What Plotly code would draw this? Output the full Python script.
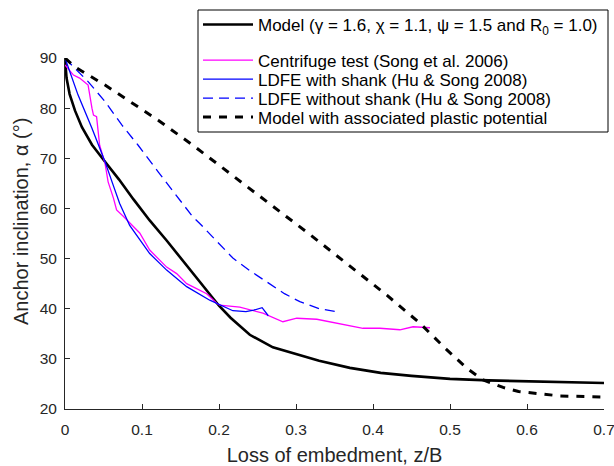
import plotly.graph_objects as go

# ---- data ----
model_x = [0, 0.002, 0.006, 0.013, 0.022, 0.035, 0.052, 0.07, 0.089, 0.11, 0.132, 0.15, 0.167,
           0.185, 0.2, 0.215, 0.24, 0.27, 0.3, 0.33, 0.37, 0.41, 0.45, 0.5, 0.55, 0.6, 0.65, 0.7]
model_y = [90, 86, 82.8, 79.5, 76.2, 72.7, 69.3, 65.8, 61.8, 57.6, 53.6, 50.2, 47.0,
           43.6, 40.6, 38.2, 34.8, 32.3, 31.0, 29.6, 28.2, 27.2, 26.6, 26.0, 25.7, 25.5, 25.35, 25.2]

cent_x = [0, 0.011, 0.019, 0.03, 0.035, 0.037, 0.041, 0.043, 0.045, 0.052, 0.056, 0.063, 0.067,
          0.076, 0.089, 0.097, 0.11, 0.123, 0.132, 0.145, 0.158, 0.167, 0.175, 0.184, 0.197,
          0.201, 0.227, 0.257, 0.283, 0.301, 0.327, 0.361, 0.387, 0.409, 0.435, 0.452, 0.474]
cent_y = [88.6, 86.6, 86.0, 84.6, 80.0, 78.6, 78.3, 75.3, 72.6, 69.0, 65.3, 62.0, 59.7,
          58.4, 56.4, 55.1, 51.7, 49.7, 48.3, 47.0, 45.0, 44.3, 43.7, 43.0, 41.1,
          40.7, 40.3, 39.1, 37.4, 38.1, 37.9, 36.9, 36.1, 36.1, 35.8, 36.4, 36.2]

ldfe_x = [0, 0.017, 0.035, 0.052, 0.062, 0.071, 0.084, 0.11, 0.132, 0.158, 0.188, 0.206,
          0.218, 0.235, 0.245, 0.256, 0.264]
ldfe_y = [90, 82.6, 76.0, 69.3, 64.9, 61.0, 56.6, 51.0, 47.7, 44.4, 41.7, 40.4,
          39.6, 39.4, 39.7, 40.2, 38.6]

ldfe_ns_x = [0, 0.004, 0.03, 0.052, 0.074, 0.095, 0.121, 0.166, 0.175, 0.218, 0.24, 0.262,
             0.285, 0.305, 0.33, 0.353]
ldfe_ns_y = [90, 89.3, 85.3, 81.3, 76.6, 72.6, 67.3, 58.3, 57.0, 50.1, 47.6, 45.3,
             43.0, 41.4, 40.0, 39.4]

assoc_x = [0, 0.013, 0.052, 0.091, 0.121, 0.167, 0.227, 0.318, 0.418, 0.461, 0.496, 0.522,
           0.543, 0.569, 0.589, 0.6, 0.643, 0.7]
assoc_y = [90, 88.2, 84.6, 80.6, 77.6, 72.5, 65.5, 54.8, 42.7, 37.1, 31.8, 28.1,
           25.8, 24.3, 23.5, 23.3, 22.6, 22.4]

x_ticks = [0, 0.1, 0.2, 0.3, 0.4, 0.5, 0.6, 0.7]
x_tick_labels = ["0", "0.1", "0.2", "0.3", "0.4", "0.5", "0.6", "0.7"]
y_ticks = [20, 30, 40, 50, 60, 70, 80, 90]

names = [
    "Model (γ = 1.6, χ = 1.1, ψ = 1.5 and R<sub>0</sub> = 1.0)",
    "Centrifuge test (Song et al. 2006)",
    "LDFE with shank (Hu & Song 2008)",
    "LDFE without shank (Hu & Song 2008)",
    "Model with associated plastic potential",
]

FONT = "Arial, Liberation Sans, Helvetica, sans-serif"
AX = "#262626"

# plot area in pixels (fixed margins)
L, R, T, B = 65, 10, 58, 57
W, H = 614, 466
PW, PH = W - L - R, H - T - B


def px_x(p):
    return (p - L) / PW


def px_y(p):
    return (H - B - p) / PH


row_centres = [25, 60.5, 79.5, 98.5, 117.5]
legend_ids = ["legend", "legend2", "legend3", "legend4", "legend5"]

fig = go.Figure()
fig.add_trace(go.Scatter(x=model_x, y=model_y, mode="lines", name=names[0], legend=legend_ids[0],
                         line=dict(color="black", width=2.6)))
fig.add_trace(go.Scatter(x=cent_x, y=cent_y, mode="lines", name=names[1], legend=legend_ids[1],
                         line=dict(color="#FF00FF", width=1.3)))
fig.add_trace(go.Scatter(x=ldfe_x, y=ldfe_y, mode="lines", name=names[2], legend=legend_ids[2],
                         line=dict(color="#0000FF", width=1.3)))
fig.add_trace(go.Scatter(x=ldfe_ns_x, y=ldfe_ns_y, mode="lines", name=names[3], legend=legend_ids[3],
                         line=dict(color="#0000FF", width=1.3, dash="10px,6px")))
fig.add_trace(go.Scatter(x=assoc_x, y=assoc_y, mode="lines", name=names[4], legend=legend_ids[4],
                         line=dict(color="black", width=3, dash="8px,8px")))

legends = {}
for lid, yc in zip(legend_ids, row_centres):
    legends[lid] = dict(x=px_x(198), y=px_y(yc), xanchor="left", yanchor="middle",
                        bgcolor="rgba(0,0,0,0)", borderwidth=0,
                        font=dict(size=17, color="black", family=FONT),
                        itemwidth=50)

fig.update_layout(
    width=W, height=H,
    margin=dict(l=L, r=R, t=T, b=B, autoexpand=False),
    paper_bgcolor="white", plot_bgcolor="white",
    font=dict(family=FONT, color=AX),
    showlegend=True,
    **legends,
    xaxis=dict(range=[0, 0.7], tickvals=x_ticks, ticktext=x_tick_labels,
               ticks="inside", ticklen=5, tickcolor=AX, showline=True, linecolor=AX,
               linewidth=1, showgrid=False, zeroline=False, mirror=False,
               tickfont=dict(size=15.5, color=AX), ticklabelstandoff=6,
               ticklabeloverflow="allow",
               title=dict(text="Loss of embedment, z/B", font=dict(size=20, color=AX), standoff=12)),
    yaxis=dict(range=[20, 90], tickvals=y_ticks,
               ticks="inside", ticklen=5, tickcolor=AX, showline=True, linecolor=AX,
               linewidth=1, showgrid=False, zeroline=False, mirror=False,
               tickfont=dict(size=15.5, color=AX), ticklabelstandoff=4),
    shapes=[dict(type="rect", xref="paper", yref="paper",
                 x0=px_x(198), x1=px_x(608), y0=px_y(132), y1=px_y(10),
                 line=dict(color="black", width=1), fillcolor="white", layer="above")],
    annotations=[dict(text="Anchor inclination, α (°)", xref="paper", yref="paper",
                      x=px_x(21), y=px_y(222), xanchor="center", yanchor="middle",
                      textangle=-90, showarrow=False, font=dict(size=20, color=AX, family=FONT))],
)

fig.write_html("out.html", config={"displayModeBar": False},
               post_script="document.body.style.margin='0';")
